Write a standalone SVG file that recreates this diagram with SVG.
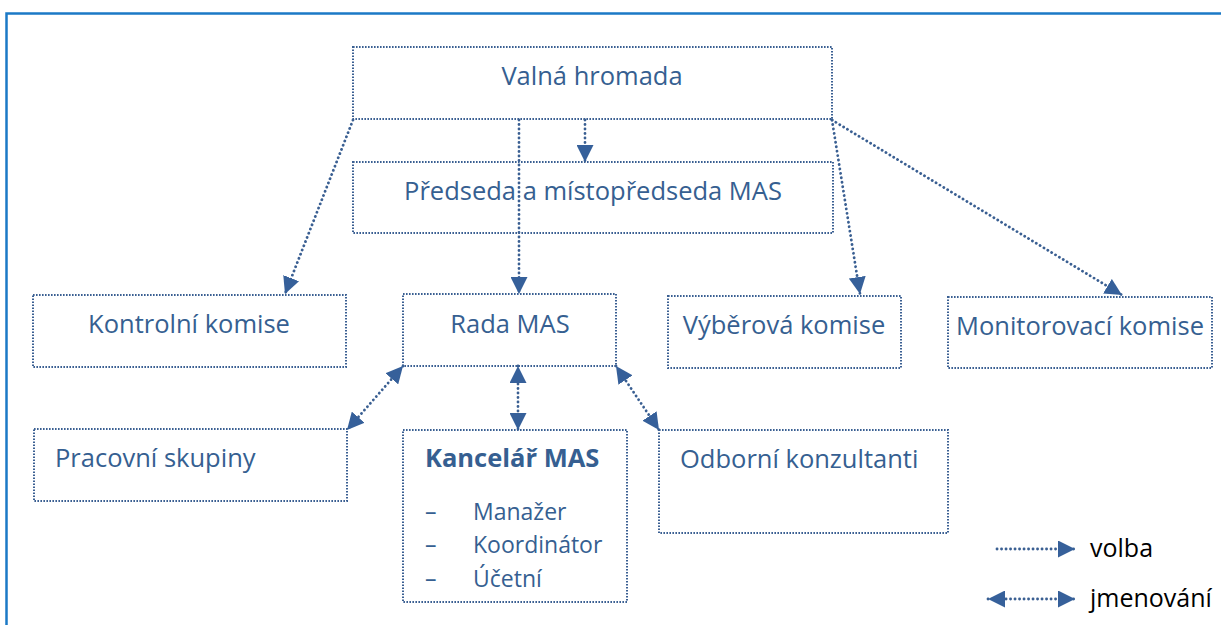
<svg xmlns="http://www.w3.org/2000/svg" width="1221" height="625" viewBox="0 0 1221 625">
<style>
.box{fill:none;stroke:#3A5F92;stroke-width:2;stroke-dasharray:1.6 1.4}
.con{fill:none;stroke:#3A5F92;stroke-width:2.8;stroke-dasharray:0.1 4.4;stroke-linecap:round}
.t{font-family:"Open Sans","Noto Sans","Liberation Sans",sans-serif;font-size:25.5px;fill:#365F91}
.s{font-family:"Open Sans","Noto Sans","Liberation Sans",sans-serif;font-size:23px;fill:#365F91}
.lg{font-family:"Open Sans","Noto Sans","Liberation Sans",sans-serif;font-size:25px;fill:#000}
</style>
<defs>
<marker id="ah" viewBox="0 0 10 10" refX="10" refY="5" markerWidth="17" markerHeight="17" markerUnits="userSpaceOnUse" orient="auto-start-reverse">
<path d="M0,0 L10,5 L0,10 z" fill="#36609A"/>
</marker>
</defs>
<rect x="0" y="0" width="1221" height="625" fill="#fff"/>
<rect x="6.5" y="13.5" width="1230" height="640" fill="none" stroke="#1B79C6" stroke-width="2.5"/>

<g id="connectors">
<line class="con" x1="585" y1="120" x2="585" y2="162" marker-end="url(#ah)"/>
<line class="con" x1="519" y1="120" x2="519" y2="294" marker-end="url(#ah)"/>
<line class="con" x1="353" y1="120" x2="285" y2="294" marker-end="url(#ah)"/>
<line class="con" x1="832" y1="120" x2="860" y2="294" marker-end="url(#ah)"/>
<line class="con" x1="832" y1="120" x2="1122" y2="295" marker-end="url(#ah)"/>
<line class="con" x1="403" y1="366" x2="347" y2="430" marker-start="url(#ah)" marker-end="url(#ah)"/>
<line class="con" x1="518" y1="366" x2="518" y2="430" marker-start="url(#ah)" marker-end="url(#ah)"/>
<line class="con" x1="616" y1="366" x2="659" y2="430" marker-start="url(#ah)" marker-end="url(#ah)"/>
</g>

<g id="valna-hromada">
<rect class="box" x="353" y="47" width="479" height="72"/>
<text class="t" x="592" y="85" text-anchor="middle">Valná hromada</text>
</g>
<g id="predseda">
<rect class="box" x="353" y="162" width="480" height="71"/>
<text class="t" x="593" y="200" text-anchor="middle">Předseda a místopředseda MAS</text>
</g>
<g id="kontrolni-komise">
<rect class="box" x="33" y="295" width="313" height="72"/>
<text class="t" x="189" y="333" text-anchor="middle">Kontrolní komise</text>
</g>
<g id="rada-mas">
<rect class="box" x="403" y="294" width="213" height="72"/>
<text class="t" x="510" y="333" text-anchor="middle">Rada MAS</text>
</g>
<g id="vyberova-komise">
<rect class="box" x="668" y="296" width="233" height="72"/>
<text class="t" x="784" y="334" text-anchor="middle">Výběrová komise</text>
</g>
<g id="monitorovaci-komise">
<rect class="box" x="948" y="297" width="264" height="71"/>
<text class="t" x="1080" y="335" text-anchor="middle">Monitorovací komise</text>
</g>
<g id="pracovni-skupiny">
<rect class="box" x="34" y="429" width="313" height="72"/>
<text class="t" x="55" y="467">Pracovní skupiny</text>
</g>
<g id="kancelar-mas">
<rect class="box" x="403" y="430" width="224" height="172"/>
<text class="t" x="425" y="467" font-weight="bold" font-size="24.5px">Kancelář MAS</text>
<text class="s" x="425" y="520">–</text>
<text class="s" x="473" y="520">Manažer</text>
<text class="s" x="425" y="553">–</text>
<text class="s" x="473" y="553">Koordinátor</text>
<text class="s" x="425" y="587">–</text>
<text class="s" x="473" y="587">Účetní</text>
</g>
<g id="odborni-konzultanti">
<rect class="box" x="659" y="430" width="289" height="103"/>
<text class="t" x="680" y="468">Odborní konzultanti</text>
</g>

<g id="legend">
<line class="con" x1="997" y1="549" x2="1075" y2="549" marker-end="url(#ah)"/>
<text class="lg" x="1090" y="557">volba</text>
<line class="con" x1="988" y1="599" x2="1075" y2="599" marker-start="url(#ah)" marker-end="url(#ah)"/>
<text class="lg" x="1090" y="607">jmenování</text>
</g>
</svg>
